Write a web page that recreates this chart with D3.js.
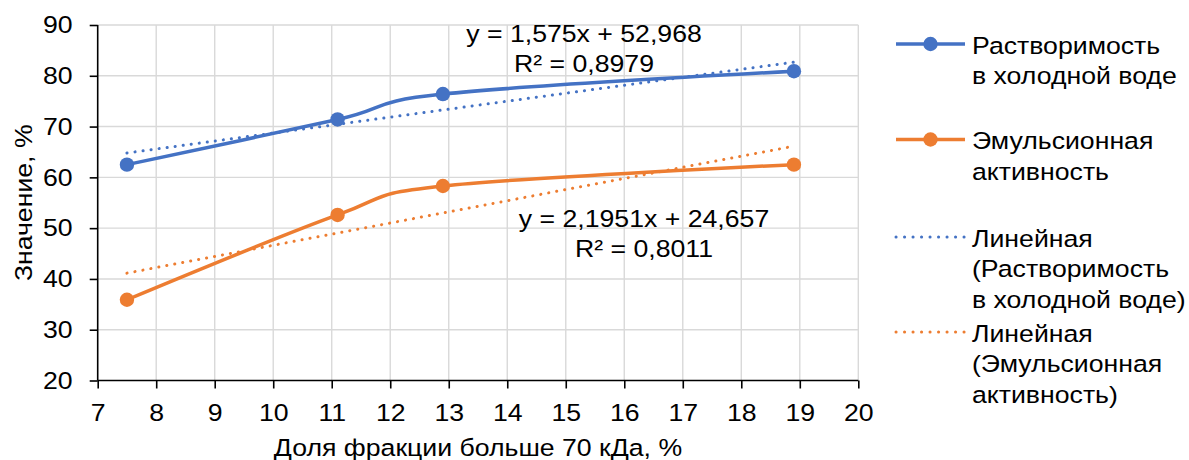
<!DOCTYPE html>
<html>
<head>
<meta charset="utf-8">
<script src="https://cdn.jsdelivr.net/npm/d3@7"></script>
<style>
  html, body { margin: 0; padding: 0; background: #fff; }
  svg { display: block; font-family: "Liberation Sans", Arial, sans-serif; }
</style>
</head>
<body>
<svg id="chart" width="1189" height="460"></svg>
<script>
// ---- data ----
const xValues = [7.5, 11.1, 12.9, 18.9];
const solubility = [62.5, 71.4, 76.4, 80.9];
const emulsion = [35.9, 52.6, 58.3, 62.5];
const xTicks = [7, 8, 9, 10, 11, 12, 13, 14, 15, 16, 17, 18, 19, 20];
const yTicks = [20, 30, 40, 50, 60, 70, 80, 90];
const seriesNames = ["Растворимость в холодной воде", "Эмульсионная активность"];
const trendNames = ["Линейная (Растворимость в холодной воде)", "Линейная (Эмульсионная активность)"];
const eqLabels = [["y = 1,575x + 52,968", "R² = 0,8979"], ["y = 2,1951x + 24,657", "R² = 0,8011"]];
const legendLines = [
  ["Растворимость", "в холодной воде"],
  ["Эмульсионная", "активность"],
  ["Линейная", "(Растворимость", "в холодной воде)"],
  ["Линейная", "(Эмульсионная", "активность)"]
];
const xTitle = "Доля фракции больше 70 кДа, %";
const yTitle = "Значение, %";

const colors = ["#4472C4", "#ED7D31"];
const svg = d3.select("#chart");
const L = 97.7, R = 858.3, T = 25, B = 380.5;
const x = d3.scaleLinear().domain([7, 20]).range([L, R]);
const y = d3.scaleLinear().domain([20, 90]).range([B, T]);
const fs = 24.5;
const sx = 1.088;

function addText(parent, px, py, t, anchor, rot) {
  return parent.append("text")
    .attr("transform", `translate(${px},${py})${rot ? " rotate(" + rot + ")" : ""} scale(${sx},1)`)
    .attr("text-anchor", anchor || "start").attr("dominant-baseline", "central")
    .style("font-size", fs + "px").attr("fill", "#000").text(t);
}

// gridlines
svg.append("g").selectAll("line").data(yTicks.filter(d => d > 20)).join("line")
  .attr("x1", L).attr("x2", R).attr("y1", d => y(d)).attr("y2", d => y(d))
  .attr("stroke", "#d9d9d9").attr("stroke-width", 1.4);
svg.append("g").selectAll("line").data(xTicks.filter(d => d > 7)).join("line")
  .attr("x1", d => x(d)).attr("x2", d => x(d)).attr("y1", T).attr("y2", B)
  .attr("stroke", "#d9d9d9").attr("stroke-width", 1.4);

// axes
const xAxis = d3.axisBottom(x).tickValues(xTicks).tickSize(8).tickPadding(15).tickFormat(d3.format("d"));
const yAxis = d3.axisLeft(y).tickValues(yTicks).tickSize(8).tickPadding(15).tickFormat(d3.format("d"));
const gx = svg.append("g").attr("transform", `translate(0,${B})`).call(xAxis);
const gy = svg.append("g").attr("transform", `translate(${L},0)`).call(yAxis);
[gx, gy].forEach(g => {
  g.select(".domain").attr("stroke", "#000").attr("stroke-width", 1.6);
  g.selectAll(".tick line").attr("stroke", "#000").attr("stroke-width", 1.6);
  g.selectAll(".tick text").attr("fill", "#000").style("font-size", fs + "px")
    .style("font-family", '"Liberation Sans", Arial, sans-serif')
    .attr("transform", `scale(${sx},1)`);
});
gx.select(".domain").attr("d", `M${L},0H${R}`);
gy.select(".domain").attr("d", `M0,${B}V${T}`);

// regression
function fit(xs, ys) {
  const n = xs.length, mx = d3.mean(xs), my = d3.mean(ys);
  let sxy = 0, sxx = 0;
  for (let i = 0; i < n; i++) { sxy += (xs[i] - mx) * (ys[i] - my); sxx += (xs[i] - mx) ** 2; }
  const b = sxy / sxx; return { b, a: my - b * mx };
}

const allSeries = [solubility, emulsion];
const xmin = d3.min(xValues), xmax = d3.max(xValues);
allSeries.forEach((vals, i) => {
  const f = fit(xValues, vals);
  svg.append("line")
    .attr("x1", x(xmin)).attr("y1", y(f.a + f.b * xmin))
    .attr("x2", x(xmax)).attr("y2", y(f.a + f.b * xmax))
    .attr("stroke", colors[i]).attr("stroke-width", 3)
    .attr("stroke-linecap", "round").attr("stroke-dasharray", "0.1 8");
});

const line = d3.line().x(d => x(d[0])).y(d => y(d[1])).curve(d3.curveCardinal.tension(0));
allSeries.forEach((vals, i) => {
  const pts = xValues.map((xv, j) => [xv, vals[j]]);
  svg.append("path").attr("d", line(pts)).attr("fill", "none")
    .attr("stroke", colors[i]).attr("stroke-width", 3.5).attr("stroke-linecap", "round");
  svg.append("g").selectAll("circle").data(pts).join("circle")
    .attr("cx", d => x(d[0])).attr("cy", d => y(d[1])).attr("r", 7.2)
    .attr("fill", colors[i]);
});

// equation labels
const eqPos = [[584, 33], [644, 218]];
eqLabels.forEach((lines, i) => {
  lines.forEach((t, j) => addText(svg, eqPos[i][0], eqPos[i][1] + j * 30, t, "middle"));
});

// axis titles
addText(svg, (L + R) / 2, 447, xTitle, "middle");
addText(svg, 23, (T + B) / 2, yTitle, "middle", -90);

// legend
const legY = [44, 139.5, 237, 332];
const lx1 = 896, lx2 = 965, tx = 972;
legendLines.forEach((lines, i) => {
  const c = colors[i % 2];
  const g = svg.append("g");
  if (i < 2) {
    g.append("line").attr("x1", lx1).attr("x2", lx2).attr("y1", legY[i]).attr("y2", legY[i])
      .attr("stroke", c).attr("stroke-width", 3.5);
    g.append("circle").attr("cx", (lx1 + lx2) / 2).attr("cy", legY[i]).attr("r", 7.2).attr("fill", c);
  } else {
    g.append("line").attr("x1", lx1).attr("x2", lx2).attr("y1", legY[i]).attr("y2", legY[i])
      .attr("stroke", c).attr("stroke-width", 3)
      .attr("stroke-linecap", "round").attr("stroke-dasharray", "0.1 8.4");
  }
  lines.forEach((t, j) => addText(g, tx, legY[i] + 1 + j * 30.5, t, "start"));
});
</script>
</body>
</html>
